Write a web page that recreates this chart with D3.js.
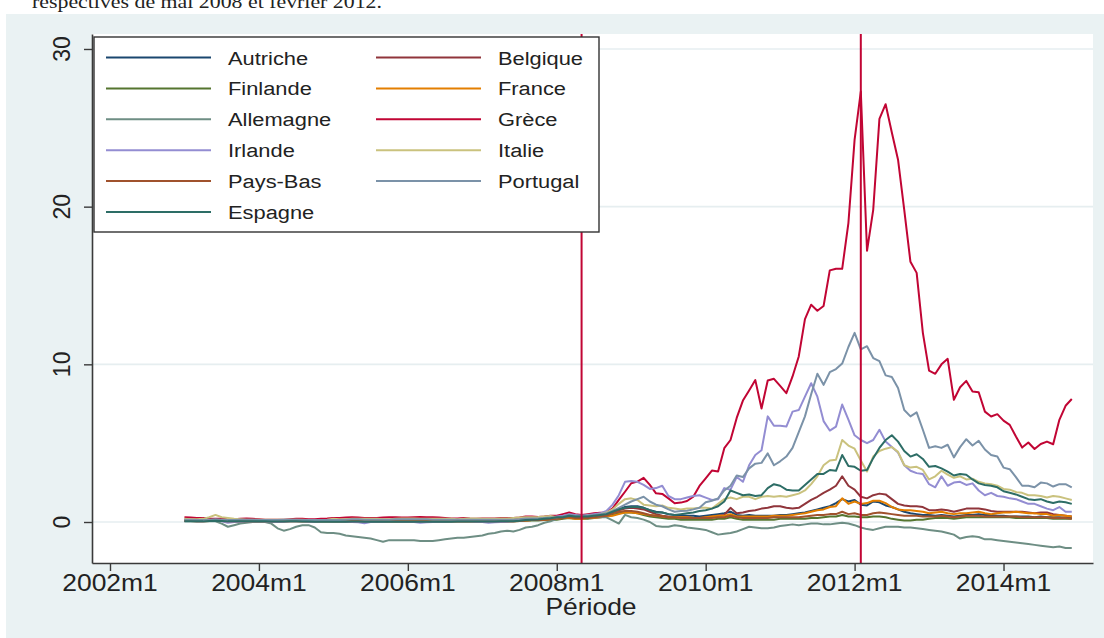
<!DOCTYPE html>
<html>
<head>
<meta charset="utf-8">
<script src="https://cdn.jsdelivr.net/npm/d3@7/dist/d3.min.js"></script>
<style>
  body { margin: 0; background: #fff; }
  svg { display: block; }
  text { font-family: "Liberation Sans", Arial, sans-serif; fill: #222; }
</style>
</head>
<body>
<svg id="chart" width="1104" height="638"></svg>
<script>
// spreads vs. Germany-like benchmark, monthly from 2003m1 to 2014m12
const countries = ["Autriche","Belgique","Finlande","France","Allemagne","Grèce","Irlande","Italie","Pays-Bas","Portugal","Espagne"];
const colors = ["#1a476f","#90353b","#55752f","#e37e00","#6e8e84","#c10534","#938dd2","#cac27e","#a0522d","#7b92a8","#2d6d66"];

const aut = [
 0.08,0.08,0.07,0.07,0.08,0.10,0.08,0.07,0.07,0.07,0.07,0.07,
 0.07,0.07,0.06,0.06,0.06,0.07,0.07,0.06,0.06,0.06,0.06,0.06,
 0.05,0.05,0.05,0.06,0.06,0.05,0.05,0.05,0.05,0.05,0.05,0.05,
 0.05,0.05,0.05,0.05,0.05,0.05,0.05,0.05,0.05,0.05,0.05,0.05,
 0.05,0.05,0.05,0.06,0.06,0.06,0.08,0.12,0.14,0.14,0.16,0.20,
 0.20,0.25,0.30,0.25,0.25,0.25,0.30,0.35,0.45,0.60,0.80,0.95,
 1.00,1.00,0.90,0.75,0.65,0.60,0.50,0.45,0.45,0.40,0.40,0.35,
 0.40,0.45,0.50,0.55,0.65,0.45,0.40,0.45,0.40,0.40,0.40,0.40,
 0.45,0.45,0.50,0.55,0.60,0.70,0.80,0.90,1.00,1.20,1.45,1.30,
 1.40,1.10,1.05,1.30,1.25,1.05,0.95,0.80,0.65,0.55,0.50,0.45,
 0.45,0.40,0.45,0.40,0.35,0.40,0.45,0.45,0.50,0.45,0.45,0.40,
 0.40,0.35,0.35,0.35,0.35,0.30,0.35,0.30,0.30,0.30,0.25,0.25];

const bel = [
 0.15,0.12,0.12,0.12,0.12,0.15,0.12,0.10,0.10,0.10,0.10,0.10,
 0.10,0.10,0.10,0.10,0.10,0.12,0.12,0.10,0.10,0.10,0.10,0.10,
 0.10,0.10,0.10,0.12,0.12,0.10,0.10,0.10,0.10,0.10,0.12,0.12,
 0.12,0.12,0.12,0.12,0.10,0.10,0.10,0.10,0.10,0.10,0.10,0.10,
 0.10,0.10,0.10,0.10,0.10,0.10,0.12,0.18,0.18,0.18,0.22,0.25,
 0.25,0.30,0.35,0.30,0.30,0.30,0.35,0.40,0.45,0.60,0.75,0.85,
 0.90,0.85,0.80,0.65,0.50,0.40,0.35,0.30,0.30,0.30,0.25,0.25,
 0.30,0.35,0.40,0.45,0.90,0.55,0.60,0.70,0.75,0.85,0.90,1.00,
 1.00,0.90,0.85,0.90,1.15,1.40,1.60,1.85,2.05,2.30,2.90,2.30,
 2.05,1.60,1.50,1.70,1.80,1.75,1.45,1.15,1.05,1.00,1.00,0.95,
 0.75,0.75,0.80,0.75,0.65,0.75,0.85,0.85,0.85,0.80,0.70,0.65,
 0.65,0.65,0.65,0.65,0.60,0.55,0.60,0.60,0.50,0.45,0.40,0.35];

const fin = [
 0.06,0.06,0.05,0.05,0.06,0.08,0.06,0.05,0.05,0.05,0.05,0.05,
 0.05,0.05,0.05,0.04,0.04,0.05,0.05,0.04,0.04,0.04,0.04,0.04,
 0.04,0.04,0.04,0.05,0.05,0.04,0.04,0.04,0.04,0.04,0.04,0.04,
 0.04,0.04,0.04,0.04,0.04,0.04,0.04,0.04,0.04,0.04,0.04,0.04,
 0.04,0.04,0.04,0.04,0.05,0.05,0.06,0.08,0.10,0.10,0.12,0.15,
 0.15,0.20,0.25,0.20,0.20,0.20,0.25,0.30,0.35,0.45,0.55,0.60,
 0.60,0.55,0.45,0.35,0.30,0.25,0.20,0.20,0.15,0.15,0.15,0.15,
 0.15,0.15,0.20,0.20,0.30,0.20,0.15,0.15,0.15,0.15,0.15,0.15,
 0.20,0.20,0.20,0.20,0.20,0.25,0.25,0.30,0.35,0.35,0.45,0.35,
 0.35,0.30,0.30,0.35,0.35,0.30,0.20,0.15,0.10,0.10,0.15,0.15,
 0.20,0.25,0.25,0.25,0.20,0.25,0.30,0.30,0.30,0.30,0.30,0.30,
 0.30,0.30,0.25,0.25,0.25,0.25,0.25,0.25,0.20,0.20,0.20,0.20];

const fra = [
 0.08,0.08,0.07,0.07,0.08,0.10,0.08,0.07,0.06,0.06,0.06,0.06,
 0.06,0.06,0.05,0.05,0.05,0.06,0.06,0.05,0.05,0.05,0.05,0.05,
 0.05,0.05,0.05,0.05,0.05,0.04,0.04,0.04,0.04,0.04,0.04,0.04,
 0.04,0.04,0.04,0.04,0.04,0.04,0.04,0.04,0.04,0.04,0.04,0.04,
 0.04,0.04,0.04,0.05,0.05,0.05,0.07,0.10,0.12,0.12,0.14,0.18,
 0.20,0.25,0.25,0.20,0.20,0.25,0.25,0.30,0.35,0.40,0.50,0.60,
 0.60,0.55,0.50,0.45,0.40,0.35,0.30,0.30,0.30,0.30,0.25,0.25,
 0.30,0.35,0.40,0.40,0.50,0.35,0.35,0.35,0.35,0.35,0.35,0.40,
 0.40,0.40,0.45,0.50,0.55,0.65,0.75,0.80,0.95,1.00,1.50,1.15,
 1.30,1.15,1.20,1.35,1.35,1.20,0.95,0.80,0.75,0.75,0.70,0.65,
 0.55,0.60,0.65,0.55,0.50,0.55,0.55,0.60,0.65,0.55,0.50,0.55,
 0.60,0.60,0.65,0.60,0.55,0.55,0.50,0.50,0.40,0.45,0.40,0.35];

const deu = [
 0.05,0.05,0.05,0.05,0.05,0.05,-0.10,-0.30,-0.20,-0.10,-0.05,0.00,
 0.00,0.00,-0.10,-0.40,-0.55,-0.45,-0.30,-0.20,-0.20,-0.35,-0.65,-0.70,
 -0.70,-0.75,-0.85,-0.90,-0.95,-1.00,-1.05,-1.15,-1.25,-1.15,-1.15,-1.15,
 -1.15,-1.15,-1.20,-1.20,-1.20,-1.15,-1.10,-1.05,-1.00,-1.00,-0.95,-0.90,
 -0.85,-0.75,-0.70,-0.60,-0.55,-0.60,-0.50,-0.35,-0.30,-0.20,-0.05,0.05,
 0.20,0.30,0.45,0.35,0.30,0.30,0.30,0.30,0.30,0.10,-0.10,0.45,
 0.30,0.25,0.15,0.00,-0.25,-0.30,-0.30,-0.20,-0.25,-0.35,-0.40,-0.45,
 -0.50,-0.65,-0.80,-0.75,-0.70,-0.60,-0.45,-0.30,-0.35,-0.40,-0.40,-0.35,
 -0.25,-0.20,-0.15,-0.20,-0.15,-0.10,-0.10,-0.15,-0.15,-0.10,-0.05,-0.10,
 -0.20,-0.35,-0.45,-0.50,-0.40,-0.30,-0.30,-0.30,-0.35,-0.35,-0.40,-0.45,
 -0.50,-0.55,-0.60,-0.70,-0.80,-1.05,-0.95,-0.90,-0.95,-1.10,-1.10,-1.15,
 -1.20,-1.25,-1.30,-1.35,-1.40,-1.45,-1.50,-1.55,-1.60,-1.55,-1.65,-1.65];

const gre = [
 0.30,0.28,0.25,0.25,0.22,0.20,0.20,0.18,0.18,0.20,0.22,0.20,
 0.18,0.15,0.15,0.15,0.15,0.18,0.20,0.20,0.18,0.18,0.20,0.22,
 0.25,0.25,0.28,0.30,0.28,0.25,0.25,0.25,0.28,0.30,0.30,0.28,
 0.28,0.30,0.32,0.30,0.30,0.28,0.25,0.22,0.22,0.25,0.22,0.20,
 0.22,0.22,0.22,0.25,0.25,0.25,0.28,0.35,0.35,0.32,0.35,0.40,
 0.40,0.50,0.60,0.50,0.45,0.50,0.55,0.58,0.60,0.87,1.40,1.92,
 2.46,2.56,2.80,2.35,1.82,1.78,1.50,1.19,1.23,1.33,1.60,2.29,
 2.77,3.26,3.20,4.68,5.20,6.60,7.70,8.34,9.00,7.20,8.97,9.08,
 8.63,8.17,9.23,10.50,12.87,13.78,13.40,13.70,15.96,16.06,16.06,18.96,
 24.25,27.30,17.20,19.80,25.57,26.50,24.70,22.98,19.80,16.50,15.80,12.00,
 9.60,9.40,10.00,10.35,7.75,8.55,8.95,8.27,8.23,7.00,6.69,6.84,
 6.43,6.16,5.42,4.72,5.04,4.63,4.95,5.10,4.93,6.48,7.37,7.80];

const irl = [
 0.10,0.08,0.05,0.05,0.08,0.10,0.05,-0.05,0.00,0.02,0.05,0.05,
 0.05,0.05,0.02,0.00,0.02,0.05,0.05,0.05,0.02,0.02,0.05,0.05,
 0.05,0.05,0.02,0.00,-0.02,-0.08,0.00,0.02,0.02,0.05,0.05,0.02,
 0.02,0.00,-0.05,-0.02,0.00,0.02,0.02,0.05,0.05,0.05,0.05,0.02,
 0.00,-0.05,-0.02,0.00,0.02,0.05,0.08,0.12,0.15,0.18,0.20,0.25,
 0.35,0.40,0.50,0.45,0.40,0.45,0.50,0.55,0.70,1.10,1.70,2.55,
 2.60,2.55,2.35,2.10,2.15,2.30,1.65,1.45,1.45,1.55,1.65,1.70,
 1.55,1.40,1.45,2.15,2.05,2.85,2.55,3.60,4.25,4.55,6.70,6.10,
 6.10,6.05,7.00,7.10,7.95,8.80,7.95,6.40,5.80,6.05,7.45,6.50,
 5.50,5.20,5.00,5.20,5.85,5.10,4.75,4.40,3.60,3.25,3.10,3.05,
 2.40,2.20,2.90,2.30,2.50,2.55,2.35,2.45,2.00,1.70,1.85,1.65,
 1.60,1.50,1.45,1.30,1.15,1.15,1.00,0.85,0.75,0.95,0.65,0.65];

const ita = [
 0.20,0.18,0.18,0.20,0.30,0.45,0.30,0.25,0.20,0.18,0.15,0.15,
 0.15,0.15,0.15,0.15,0.15,0.15,0.15,0.15,0.12,0.12,0.12,0.15,
 0.20,0.18,0.18,0.20,0.20,0.20,0.20,0.20,0.18,0.18,0.20,0.22,
 0.22,0.22,0.20,0.20,0.20,0.20,0.20,0.20,0.18,0.20,0.22,0.22,
 0.20,0.20,0.20,0.22,0.22,0.25,0.28,0.30,0.30,0.32,0.35,0.38,
 0.30,0.30,0.40,0.35,0.35,0.40,0.40,0.50,0.60,0.80,1.15,1.45,
 1.50,1.40,1.10,1.05,1.00,1.05,0.90,0.85,0.80,0.85,0.85,0.90,
 0.90,0.85,1.15,1.45,1.55,1.45,1.60,1.60,1.45,1.60,1.65,1.60,
 1.65,1.60,1.70,1.80,2.00,2.40,2.90,3.60,3.90,3.95,5.20,4.85,
 4.65,3.90,3.20,4.15,4.50,4.65,4.75,4.45,3.60,3.45,3.50,3.30,
 2.70,2.90,3.25,3.00,2.80,2.90,2.70,2.75,2.55,2.45,2.40,2.30,
 2.10,2.05,1.90,1.85,1.70,1.70,1.65,1.55,1.65,1.60,1.50,1.40];

const nld = [
 0.06,0.06,0.05,0.05,0.06,0.08,0.06,0.05,0.05,0.05,0.05,0.05,
 0.05,0.05,0.05,0.05,0.05,0.05,0.05,0.05,0.05,0.04,0.04,0.04,
 0.04,0.04,0.04,0.05,0.05,0.05,0.05,0.04,0.04,0.04,0.04,0.04,
 0.04,0.04,0.04,0.04,0.04,0.04,0.04,0.04,0.04,0.04,0.04,0.04,
 0.04,0.04,0.04,0.05,0.05,0.05,0.07,0.10,0.12,0.12,0.14,0.17,
 0.20,0.25,0.30,0.25,0.25,0.25,0.30,0.35,0.40,0.55,0.65,0.70,
 0.70,0.65,0.55,0.45,0.40,0.35,0.30,0.30,0.25,0.25,0.25,0.25,
 0.25,0.25,0.30,0.30,0.40,0.30,0.25,0.25,0.25,0.25,0.25,0.30,
 0.30,0.30,0.30,0.30,0.35,0.40,0.45,0.45,0.50,0.50,0.65,0.50,
 0.55,0.45,0.45,0.55,0.60,0.55,0.50,0.45,0.40,0.40,0.40,0.35,
 0.35,0.35,0.40,0.35,0.30,0.35,0.40,0.40,0.40,0.35,0.35,0.35,
 0.35,0.35,0.35,0.30,0.30,0.30,0.30,0.30,0.25,0.25,0.25,0.20];

const por = [
 0.15,0.15,0.12,0.12,0.15,0.18,0.15,0.12,0.12,0.15,0.15,0.15,
 0.12,0.12,0.12,0.12,0.15,0.15,0.15,0.12,0.12,0.12,0.12,0.12,
 0.12,0.12,0.15,0.18,0.18,0.15,0.15,0.15,0.15,0.15,0.18,0.18,
 0.18,0.18,0.18,0.18,0.15,0.15,0.15,0.15,0.15,0.15,0.15,0.15,
 0.15,0.15,0.15,0.15,0.15,0.15,0.18,0.22,0.22,0.22,0.25,0.28,
 0.30,0.35,0.45,0.40,0.40,0.40,0.45,0.50,0.55,0.70,0.90,1.10,
 1.30,1.45,1.60,1.30,1.10,1.00,0.80,0.65,0.70,0.72,0.80,0.90,
 1.25,1.35,1.50,2.00,2.30,2.95,2.85,3.40,3.70,3.75,4.35,3.60,
 3.85,4.15,4.70,5.70,6.70,8.10,9.40,8.70,9.50,9.70,10.05,11.10,
 12.00,10.95,11.15,10.40,10.20,9.30,9.20,8.50,7.10,6.70,6.95,5.85,
 4.70,4.80,4.70,4.90,4.10,4.75,5.25,4.85,5.15,4.60,4.25,4.15,
 3.45,3.35,2.85,2.30,2.30,2.20,2.50,2.45,2.25,2.40,2.40,2.20];

const esp = [
 0.05,0.05,0.04,0.04,0.06,0.08,0.06,0.04,0.04,0.04,0.04,0.04,
 0.04,0.04,0.03,0.03,0.03,0.04,0.04,0.03,0.03,0.02,0.02,0.02,
 0.02,0.02,0.02,0.03,0.03,0.02,0.02,0.02,0.02,0.02,0.02,0.02,
 0.02,0.02,0.02,0.02,0.02,0.02,0.02,0.02,0.03,0.03,0.03,0.03,
 0.03,0.03,0.03,0.04,0.04,0.05,0.08,0.12,0.15,0.16,0.20,0.24,
 0.30,0.30,0.40,0.35,0.35,0.35,0.40,0.45,0.50,0.65,0.80,0.90,
 0.95,0.95,0.90,0.75,0.60,0.60,0.50,0.45,0.50,0.55,0.60,0.70,
 0.75,0.85,1.00,1.30,2.00,1.85,1.70,1.75,1.65,1.70,2.15,2.40,
 2.30,2.05,2.00,2.00,2.35,2.70,3.05,3.05,3.30,3.25,4.25,3.55,
 3.50,3.25,3.30,4.05,4.70,5.20,5.50,5.10,4.50,4.15,4.30,4.00,
 3.50,3.55,3.40,3.20,2.95,3.05,3.00,2.70,2.45,2.35,2.30,2.20,
 1.95,1.85,1.75,1.60,1.45,1.40,1.45,1.30,1.20,1.30,1.25,1.15];

const series = [aut, bel, fin, fra, deu, gre, irl, ita, nld, por, esp];

const firstMonth = "2003m1";
const xTickLabels = ["2002m1","2004m1","2006m1","2008m1","2010m1","2012m1","2014m1"];
const yTicks = [0, 10, 20, 30];
const eventMonths = ["2008m5", "2012m2"];
const noteText = "respectives de mai 2008 et février 2012.";
const xTitle = "Période";

// month string -> months since 2002m1
function monthIndex(s) {
  const parts = s.split("m").map(Number);
  return (parts[0] - 2002) * 12 + (parts[1] - 1);
}

const svg = d3.select("#chart");
const stretch = 1.15;   // the reference text is a bit wide

function putText(g, str, x, y, size, anchor) {
  return g.append("text")
    .attr("transform", `translate(${x},${y}) scale(${stretch},1)`)
    .attr("text-anchor", anchor || "start")
    .style("font-size", size + "px")
    .text(str);
}

// graph region
svg.append("rect").attr("x", 6).attr("y", 14).attr("width", 1098).attr("height", 624)
   .attr("fill", "#eaf2f3");

svg.append("text")
   .attr("transform", `translate(32,8) scale(${stretch},1)`)
   .style("font-family", "'Liberation Serif', 'DejaVu Serif', serif")
   .style("font-size", "19px")
   .text(noteText);

const plot = { left: 92, right: 1093, top: 34, bottom: 563 };

svg.append("rect")
   .attr("x", plot.left).attr("y", plot.top)
   .attr("width", plot.right - plot.left).attr("height", plot.bottom - plot.top)
   .attr("fill", "#fff");

const x = d3.scaleLinear().domain([-2.9, 158.42]).range([plot.left, plot.right]);
const y = d3.scaleLinear().domain([-2.6, 30.95]).range([plot.bottom, plot.top]);

// grid
svg.append("g").selectAll("line")
   .data(yTicks).join("line")
   .attr("x1", plot.left).attr("x2", plot.right)
   .attr("y1", d => y(d)).attr("y2", d => y(d))
   .attr("stroke", "#e6eef0").attr("stroke-width", 1.6);

// series
const start = monthIndex(firstMonth);
const line = d3.line()
  .x((d, i) => x(start + i))
  .y(d => y(d));

svg.append("g").selectAll("path")
   .data(series).join("path")
   .attr("d", d => line(d))
   .attr("fill", "none")
   .attr("stroke", (d, i) => colors[i])
   .attr("stroke-width", 2)
   .attr("stroke-linejoin", "round");

// event lines
svg.append("g").selectAll("line")
   .data(eventMonths).join("line")
   .attr("x1", d => x(monthIndex(d))).attr("x2", d => x(monthIndex(d)))
   .attr("y1", plot.top).attr("y2", plot.bottom)
   .attr("stroke", "#c10534").attr("stroke-width", 2);

// axes
const axisColor = "#3a3a3a";
const yAxis = svg.append("g")
   .attr("transform", `translate(${plot.left},0)`)
   .call(d3.axisLeft(y).tickValues(yTicks).tickSize(8).tickSizeOuter(0).tickFormat(""));
const xAxis = svg.append("g")
   .attr("transform", `translate(0,${plot.bottom})`)
   .call(d3.axisBottom(x).tickValues(xTickLabels.map(monthIndex)).tickSize(8).tickSizeOuter(0).tickFormat(""));
[yAxis, xAxis].forEach(a => {
  a.select(".domain").attr("stroke", axisColor).attr("stroke-width", 1.6);
  a.selectAll(".tick line").attr("stroke", axisColor).attr("stroke-width", 1.4);
});

const labels = svg.append("g");
xTickLabels.forEach(t => putText(labels, t, x(monthIndex(t)), 591, 23, "middle"));
yTicks.forEach(t => {
  labels.append("text")
    .attr("transform", `translate(70,${y(t)}) rotate(-90)`)
    .attr("text-anchor", "middle")
    .style("font-size", "23px")
    .text(t);
});
putText(labels, xTitle, 591, 615, 23, "middle");

// legend
const legend = svg.append("g");
legend.append("rect")
   .attr("x", 94).attr("y", 37).attr("width", 505).attr("height", 195)
   .attr("fill", "#fff").attr("stroke", "#333").attr("stroke-width", 1.4);

countries.forEach((name, i) => {
  const col = i % 2, row = Math.floor(i / 2);
  const lx = 106 + col * 270, ly = 57.5 + row * 30.9;
  legend.append("line")
    .attr("x1", lx).attr("x2", lx + 105)
    .attr("y1", ly).attr("y2", ly)
    .attr("stroke", colors[i]).attr("stroke-width", 2);
  putText(legend, name, lx + 122, ly + 7, 19, "start");
});
</script>
</body>
</html>
